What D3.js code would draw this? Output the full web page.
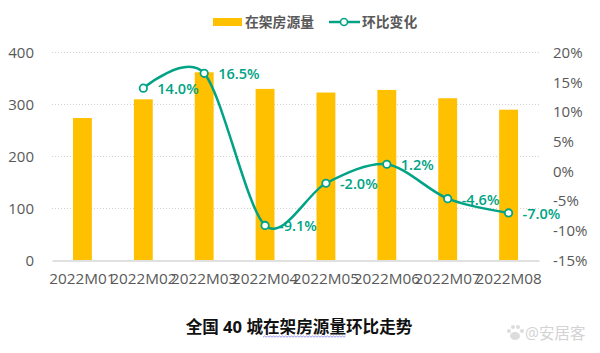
<!DOCTYPE html>
<html>
<head>
<meta charset="utf-8">
<script src="https://cdn.jsdelivr.net/npm/d3@7"></script>
<style>
  html, body { margin: 0; padding: 0; background: #fff; }
  svg { display: block; }
  text { font-family: "Open Sans", "Noto Sans CJK SC", sans-serif; }
</style>
</head>
<body>
<svg width="600" height="353"></svg>
<script>
var months = ['2022M01', '2022M02', '2022M03', '2022M04', '2022M05', '2022M06', '2022M07', '2022M08']
var stock = [274, 310, 362, 330, 323, 328, 312, 290]
// first month has no change value
var change = [null, 14.0, 16.5, -9.1, -2.0, 1.2, -4.6, -7.0]
var leftTicks = [0, 100, 200, 300, 400]
var rightTicks = [-15, -10, -5, 0, 5, 10, 15, 20]
var barName = '在架房源量'
var lineName = '环比变化'
var title = ['全国 40 城', '在架房源量', '环比走势']

var svg = d3.select('svg')

var gold = '#ffc000'
var green = '#00a385'
var grey = '#595959'

var x = d3.scaleBand()
  .domain(months)
  .range([52, 539])
  .paddingInner(0.69)
  .paddingOuter(0.345)

var yL = d3.scaleLinear()
  .domain([0, 400])
  .range([260.5, 52.5])

var yR = d3.scaleLinear()
  .domain([-15, 20])
  .range([260.5, 52.5])

// gridlines
svg.append('g')
  .selectAll('line')
  .data(leftTicks.slice(1))
  .enter()
  .append('line')
  .attr('x1', 52)
  .attr('x2', 539)
  .attr('y1', function (d) { return yL(d) })
  .attr('y2', function (d) { return yL(d) })
  .style('stroke', '#d0d0d0')
  .style('stroke-width', 1)
  .style('stroke-dasharray', '1 2')

// bars
svg.append('g')
  .selectAll('rect')
  .data(stock)
  .enter()
  .append('rect')
  .attr('x', function (d, i) { return x(months[i]) })
  .attr('y', function (d) { return yL(d) })
  .attr('width', x.bandwidth())
  .attr('height', function (d) { return yL(0) - yL(d) })
  .style('fill', gold)

// axes
var axisB = svg.append('g')
  .attr('transform', 'translate(0,260.5)')
  .call(d3.axisBottom(x).tickSize(0).tickPadding(13))
axisB.select('.domain').style('stroke', '#e0e0e0').style('stroke-width', 2)
axisB.selectAll('text')
  .style('font-size', '15.3px')
  .style('fill', grey)

var axisL = svg.append('g')
  .attr('transform', 'translate(34,0)')
  .call(d3.axisLeft(yL).tickValues(leftTicks).tickSize(0).tickPadding(0))
axisL.select('.domain').remove()
axisL.selectAll('text')
  .style('font-size', '15px')
  .style('fill', grey)

var axisR = svg.append('g')
  .attr('transform', 'translate(553,0)')
  .call(d3.axisRight(yR).tickValues(rightTicks).tickSize(0).tickPadding(0)
    .tickFormat(function (d) { return d + '%' }))
axisR.select('.domain').remove()
axisR.selectAll('text')
  .style('font-size', '15px')
  .style('fill', grey)

// line
var points = months.map(function (m, i) {
  return { m: m, v: change[i] }
}).filter(function (d) { return d.v !== null })

var cx = function (d) { return x(d.m) + x.bandwidth() / 2 }

var line = d3.line()
  .x(cx)
  .y(function (d) { return yR(d.v) })
  .curve(d3.curveCardinal.tension(0.1))

svg.append('path')
  .datum(points)
  .attr('d', line)
  .style('fill', 'none')
  .style('stroke', green)
  .style('stroke-width', 2.5)

svg.append('g')
  .selectAll('circle')
  .data(points)
  .enter()
  .append('circle')
  .attr('cx', cx)
  .attr('cy', function (d) { return yR(d.v) })
  .attr('r', 3.7)
  .style('fill', '#fff')
  .style('stroke', green)
  .style('stroke-width', 1.8)

svg.append('g')
  .selectAll('text')
  .data(points)
  .enter()
  .append('text')
  .attr('x', function (d) { return cx(d) + 14 })
  .attr('y', function (d) { return yR(d.v) + 6 })
  .text(function (d) { return d.v.toFixed(1) + '%' })
  .style('font-size', '14.5px')
  .style('font-weight', 600)
  .style('fill', green)

// legend
var legend = svg.append('g')
legend.append('rect')
  .attr('x', 213)
  .attr('y', 18)
  .attr('width', 29)
  .attr('height', 8)
  .style('fill', gold)
legend.append('text')
  .attr('x', 245)
  .attr('y', 27)
  .text(barName)
  .style('font-size', '13.8px')
  .style('font-weight', 700)
  .style('fill', grey)
legend.append('line')
  .attr('x1', 329)
  .attr('x2', 360)
  .attr('y1', 22)
  .attr('y2', 22)
  .style('stroke', green)
  .style('stroke-width', 2.5)
legend.append('circle')
  .attr('cx', 344)
  .attr('cy', 22)
  .attr('r', 3.5)
  .style('fill', '#fff')
  .style('stroke', green)
  .style('stroke-width', 1.6)
legend.append('text')
  .attr('x', 362)
  .attr('y', 27)
  .text(lineName)
  .style('font-size', '13.8px')
  .style('font-weight', 700)
  .style('fill', grey)

// title
var t = svg.append('text')
  .attr('x', 299)
  .attr('y', 333)
  .attr('text-anchor', 'middle')
  .style('font-size', '16.6px')
  .style('font-weight', 700)
  .style('fill', '#111')
  .text(title.join(''))

// spell-check squiggle under the middle part of the title
var from = title[0].length
var to = from + title[1].length - 1
var x0 = t.node().getStartPositionOfChar(from).x
var x1 = t.node().getEndPositionOfChar(to).x
var wave = d3.range(x0, x1, 1.5).map(function (px, i) {
  return [px, i % 2 ? 336 : 337.2]
})
svg.append('path')
  .attr('d', d3.line()(wave))
  .style('fill', 'none')
  .style('stroke', '#6a6ae0')
  .style('stroke-width', 0.7)

// watermark
var mark = svg.append('g').style('opacity', 0.9)
mark.append('ellipse').attr('cx', 515).attr('cy', 336).attr('rx', 5).attr('ry', 4).style('fill', '#d9d9d9')
mark.selectAll('circle.toe')
  .data([[509, 331], [513, 327], [518, 327], [522, 331]])
  .enter()
  .append('circle')
  .attr('class', 'toe')
  .attr('cx', function (d) { return d[0] })
  .attr('cy', function (d) { return d[1] })
  .attr('r', 2)
  .style('fill', '#d9d9d9')
mark.append('text')
  .attr('x', 525)
  .attr('y', 339)
  .text('@安居客')
  .style('font-size', '15.5px')
  .style('fill', '#cfcfcf')
</script>
</body>
</html>
